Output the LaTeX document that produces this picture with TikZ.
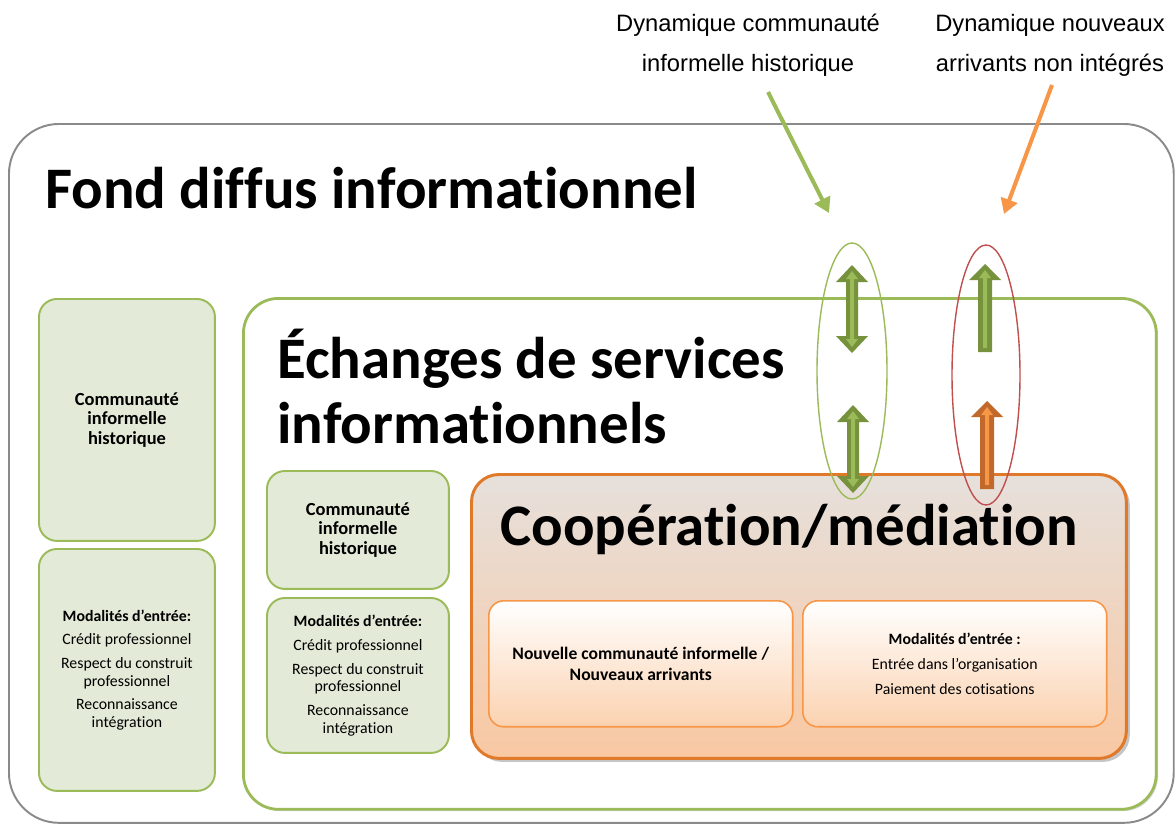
\documentclass[tikz,border=0pt]{standalone}
\usepackage{fontspec}
\setmainfont{Carlito}[Ligatures={NoCommon}]
\newfontfamily\arialfont{Liberation Sans}
\usetikzlibrary{arrows.meta}
\usetikzlibrary{shadows}

\definecolor{accgreen}{HTML}{9BBB59}
\definecolor{darkgreen}{HTML}{76923C}
\definecolor{boxgreen}{HTML}{E3EAD7}
\definecolor{accorange}{HTML}{F79646}
\definecolor{darkorange}{HTML}{C0692B}
\definecolor{coopline}{HTML}{E07A2A}
\definecolor{cooptop}{HTML}{E6E0DC}
\definecolor{coopbottom}{HTML}{F9C8A2}
\definecolor{innerbottom}{HTML}{FBD2B0}
\definecolor{accred}{HTML}{C0504D}
\definecolor{framegray}{HTML}{8A8A8A}

\tikzset{
    arrowdark/.store in=\arrowdark, arrowlight/.store in=\arrowlight,
    arrowdark=darkgreen, arrowlight=accgreen,
    dblarrow/.pic={
        \fill[\arrowdark] (0,-44) -- (16,-27) -- (6,-27) -- (6,27) -- (16,27) -- (0,44)
            -- (-16,27) -- (-6,27) -- (-6,-27) -- (-16,-27) -- cycle;
        \fill[\arrowlight] (0,-38) -- (6,-30) -- (2,-30) -- (2,30) -- (6,30) -- (0,38)
            -- (-6,30) -- (-2,30) -- (-2,-30) -- (-6,-30) -- cycle;
    },
    uparrow/.pic={
        \fill[\arrowdark] (0,-44) -- (16,-28) -- (7,-28) -- (7,44) -- (-7,44)
            -- (-7,-28) -- (-16,-28) -- cycle;
        \fill[\arrowlight] (0,-38) -- (6,-30) -- (2,-30) -- (2,40) -- (-2,40)
            -- (-2,-30) -- (-6,-30) -- cycle;
    }
}

\begin{document}
\begin{tikzpicture}[
        x=0.02cm, y=-0.02cm,
        frame/.style={draw=framegray, line width=1.1pt, rounded corners=1cm, anchor=north west},
        zonebox/.style={draw=accgreen, fill=white, line width=1.6pt, rounded corners=0.7cm, anchor=north west,
            drop shadow={shadow xshift=1pt, shadow yshift=-1pt, opacity=.35}},
        coopbox/.style={draw=coopline, line width=1.7pt, rounded corners=0.55cm, anchor=north west,
            top color=cooptop, bottom color=coopbottom,
            drop shadow={shadow xshift=2pt, shadow yshift=-2pt, opacity=.45}},
        greenbox/.style={draw=accgreen, fill=boxgreen, line width=1.1pt, rounded corners=0.36cm,
            anchor=north west, align=center, inner sep=2pt},
        orangebox/.style={draw=accorange, line width=0.9pt, rounded corners=0.3cm, anchor=north west,
            top color=white, bottom color=innerbottom, align=center},
        bigtitle/.style={anchor=base west, inner sep=0pt, font=\fontsize{33.5}{37}\selectfont\bfseries, align=left},
        histtext/.style={font=\fontsize{10.5}{11.3}\selectfont\bfseries},
        modtext/.style={font=\fontsize{9}{10}\selectfont},
        toplabel/.style={anchor=base, align=center, inner sep=0pt, font=\arialfont\fontsize{13.5}{22.5}\selectfont},
        ring/.style={line width=0.8pt},
        pointer/.style={line width=2.3pt, -{Triangle[length=0.3cm, width=0.34cm]}}
        ]
        \useasboundingbox (0,0) rectangle (1176,825);

        % Outer frame
        \node[frame, minimum width=23.3cm, minimum height=13.98cm] (fond) at (8,123) {};
        \node[bigtitle] (fondtitle) at (45,208) {Fond diffus informationnel};

        % Left column
        \node[greenbox, minimum width=3.52cm, minimum height=4.84cm, histtext] (hist1) at (38,298)
            {Communauté\\informelle\\historique};
        \node[greenbox, minimum width=3.52cm, minimum height=4.84cm, modtext] (mod1) at (38,548)
            {\textbf{Modalités d’entrée:}\\[3.5pt]Crédit professionnel\\[3.5pt]Respect du construit\\professionnel\\[3.5pt]Reconnaissance\\intégration};

        % Exchange zone
        \node[zonebox, minimum width=18.26cm, minimum height=10.22cm] (echanges) at (242,297) {};
        \node[bigtitle] (echtitle) at (277,443) {Échanges de services\\informationnels};
        \node[greenbox, minimum width=3.64cm, minimum height=2.36cm, histtext] (hist2) at (266,470)
            {Communauté\\informelle\\historique};
        \node[greenbox, minimum width=3.64cm, minimum height=3.1cm, modtext] (mod2) at (266,597)
            {\textbf{Modalités d’entrée:}\\[3.5pt]Crédit professionnel\\[3.5pt]Respect du construit\\professionnel\\[3.5pt]Reconnaissance\\intégration};

        % Cooperation zone
        \node[coopbox, minimum width=13.1cm, minimum height=5.68cm] (coop) at (470,473) {};
        \node[bigtitle] (cooptitle) at (500,545) {Coopération/médiation};
        \node[orangebox, minimum width=6.08cm, minimum height=2.52cm, font=\fontsize{10}{12}\selectfont\bfseries] (nouveaux) at (488,600)
            {Nouvelle communauté informelle /\\Nouveaux arrivants};
        \node[orangebox, minimum width=6.08cm, minimum height=2.52cm, font=\fontsize{9}{10}\selectfont] (modcoop) at (802,600)
            {\textbf{Modalités d’entrée :}\\[4.5pt]Entrée dans l’organisation\\[4.5pt]Paiement des cotisations};

        % Dynamics
        \draw[ring, accgreen] (852,371) ellipse [x radius=35, y radius=128];
        \draw[ring, accred] (986,375) ellipse [x radius=34, y radius=130];
        \pic at (852,309) {dblarrow};
        \pic at (853,449) {dblarrow};
        \pic at (985,308) {uparrow};
        \pic[arrowdark=darkorange, arrowlight=accorange] at (987,445) {uparrow};

        % Labels
        \node[toplabel] (dynhist) at (748,71) {Dynamique communauté\\informelle historique};
        \node[toplabel] (dynnew) at (1050,71) {Dynamique nouveaux\\arrivants non intégrés};
        \coordinate (histfrom) at (768,92);
        \coordinate (histto) at (829,213);
        \coordinate (newfrom) at (1052,85);
        \coordinate (newto) at (1004,214);
        \draw[pointer, accgreen] (histfrom) -- (histto);
        \draw[pointer, accorange] (newfrom) -- (newto);

    \end{tikzpicture}
\end{document}
